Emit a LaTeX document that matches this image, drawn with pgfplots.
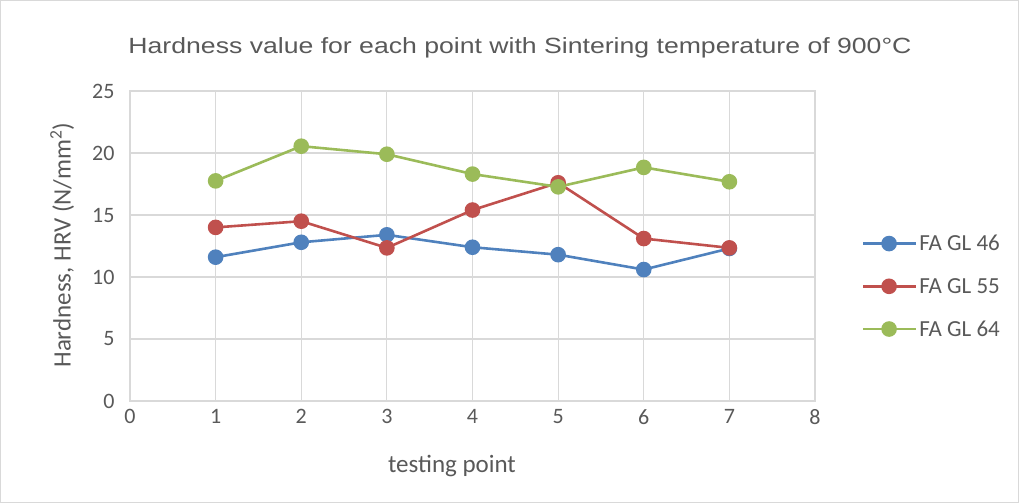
\documentclass[border=0pt]{standalone}
\usepackage{pgfplots}
\pgfplotsset{compat=1.18}
\usepackage{fontspec}
\setmainfont{Carlito}
\newfontfamily\arialf{Liberation Sans}
\definecolor{txt}{HTML}{595959}
\definecolor{gridc}{HTML}{D9D9D9}
\definecolor{cblue}{HTML}{4F81BD}
\definecolor{cred}{HTML}{C0504D}
\definecolor{cgreen}{HTML}{9BBB59}
\begin{document}
\begin{tikzpicture}
\draw[gridc, line width=1pt] (0.5pt,0.5pt) rectangle (1018.5pt,502.5pt);
\node[txt, font=\arialf\fontsize{22}{25}\selectfont] at (520pt,455pt) {\scalebox{1.21}[1]{Hardness value for each point with Sintering temperature of 900°C}};
\begin{axis}[
  at={(130pt,102pt)}, anchor=south west,
  scale only axis, width=685pt, height=310pt,
  xmin=0, xmax=8, ymin=0, ymax=25,
  xtick={0,1,...,8}, ytick={0,5,...,25},
  grid=major, major grid style={gridc, line width=1.2pt},
  axis line style={gridc, line width=1.2pt},
  tick style={draw=none},
  /pgf/number format/assume math mode=true,
  ticklabel style={txt, font=\fontsize{22}{24}\selectfont},
  xticklabel style={yshift=-5pt},
  yticklabel style={xshift=-12pt},
  xlabel={testing point}, ylabel={Hardness, HRV (N/mm\textsuperscript{2})},
  label style={txt, font=\fontsize{25}{28}\selectfont},
  xlabel style={at={(axis description cs:0.47,-0.21)}, anchor=center},
  ylabel style={at={(axis description cs:-0.099,0.503)}, anchor=center},
  legend style={at={(1.068,0.37)}, anchor=west, draw=none, fill=none,
    font=\fontsize{23}{25}\selectfont, text=txt, row sep=22pt, inner sep=0pt,
    nodes={inner xsep=2pt}},
  legend cell align=left,
  legend image code/.code={\draw[#1, mark repeat=2, mark phase=2] plot coordinates {(0pt,0pt) (26pt,0pt) (53pt,0pt)};},
  every axis plot/.append style={line width=2.6pt, mark=*, mark size=6.5pt},
]
\addplot[cblue, mark options={fill=cblue, draw=cblue}] coordinates {(1,11.6) (2,12.8) (3,13.4) (4,12.4) (5,11.8) (6,10.6) (7,12.3)};
\addplot[cred, mark options={fill=cred, draw=cred}] coordinates {(1,14.0) (2,14.5) (3,12.35) (4,15.4) (5,17.6) (6,13.1) (7,12.35)};
\addplot[cgreen, mark options={fill=cgreen, draw=cgreen}] coordinates {(1,17.75) (2,20.55) (3,19.9) (4,18.3) (5,17.27) (6,18.84) (7,17.68)};
\legend{FA GL 46, FA GL 55, FA GL 64}
\end{axis}
\end{tikzpicture}
\end{document}
